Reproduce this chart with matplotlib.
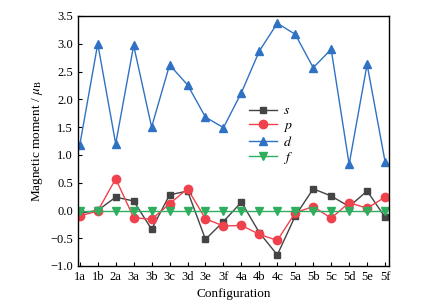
import numpy as np
import matplotlib
matplotlib.use("Agg")
import matplotlib.pyplot as plt

configs = ["1a", "1b", "2a", "3a", "3b", "3c", "3d", "3e", "3f",
           "4a", "4b", "4c", "5a", "5b", "5c", "5d", "5e", "5f"]
s_vals = [-0.05, 0.00, 0.24, 0.17, -0.34, 0.28, 0.35, -0.52, -0.20,
          0.15, -0.40, -0.80, -0.10, 0.39, 0.26, 0.07, 0.35, -0.12]
p_vals = [-0.10, -0.01, 0.57, -0.13, -0.16, 0.12, 0.39, -0.15, -0.28,
          -0.27, -0.43, -0.54, -0.04, 0.07, -0.14, 0.14, 0.04, 0.24]
d_vals = [1.18, 3.00, 1.20, 2.97, 1.50, 2.62, 2.26, 1.68, 1.49,
          2.12, 2.87, 3.37, 3.17, 2.57, 2.90, 0.83, 2.63, 0.88]
f_vals = [-0.01] * 18

plt.rcParams["font.family"] = ["Liberation Serif", "DejaVu Serif"]
plt.rcParams["mathtext.fontset"] = "stix"

fig = plt.figure(figsize=(4.23, 3.08), dpi=100)
ax = fig.add_axes([78 / 423, 1 - 266 / 308, 311 / 423, 250 / 308])

x = np.arange(len(configs))
ax.plot(x, s_vals, color="#444444", marker="s", ms=5, lw=1.0, label="$s$")
ax.plot(x, p_vals, color="#f0424c", marker="o", ms=6, lw=1.0, label="$p$")
ax.plot(x, d_vals, color="#2f72c4", marker="^", ms=6, lw=1.0, label="$d$")
ax.plot(x, f_vals, color="#2fae5f", marker="v", ms=6, lw=1.0, label="$f$")

ax.set_xlim(-0.1, 17.22)
ax.set_ylim(-1.0, 3.5)
ax.set_xticks(x)
ax.set_xticklabels(configs)
ax.set_yticks(np.arange(-1.0, 3.51, 0.5))
ax.set_yticklabels([f"{v:.1f}".replace("-", "\u2212") for v in np.arange(-1.0, 3.51, 0.5)])
ax.tick_params(direction="in", labelsize=9, length=3, width=0.8)
for sp in ax.spines.values():
    sp.set_linewidth(1.0)

ax.set_xlabel("Configuration", fontsize=9.5)
ax.set_ylabel("Magnetic moment / $\\mu_\\mathrm{B}$", fontsize=9.5)

ax.legend(loc="upper left", bbox_to_anchor=(0.52, 0.685), frameon=False,
          fontsize=10, handlelength=2.0, labelspacing=0.08, borderpad=0.2,
          handletextpad=0.4)

fig.savefig("out.png", dpi=100)
